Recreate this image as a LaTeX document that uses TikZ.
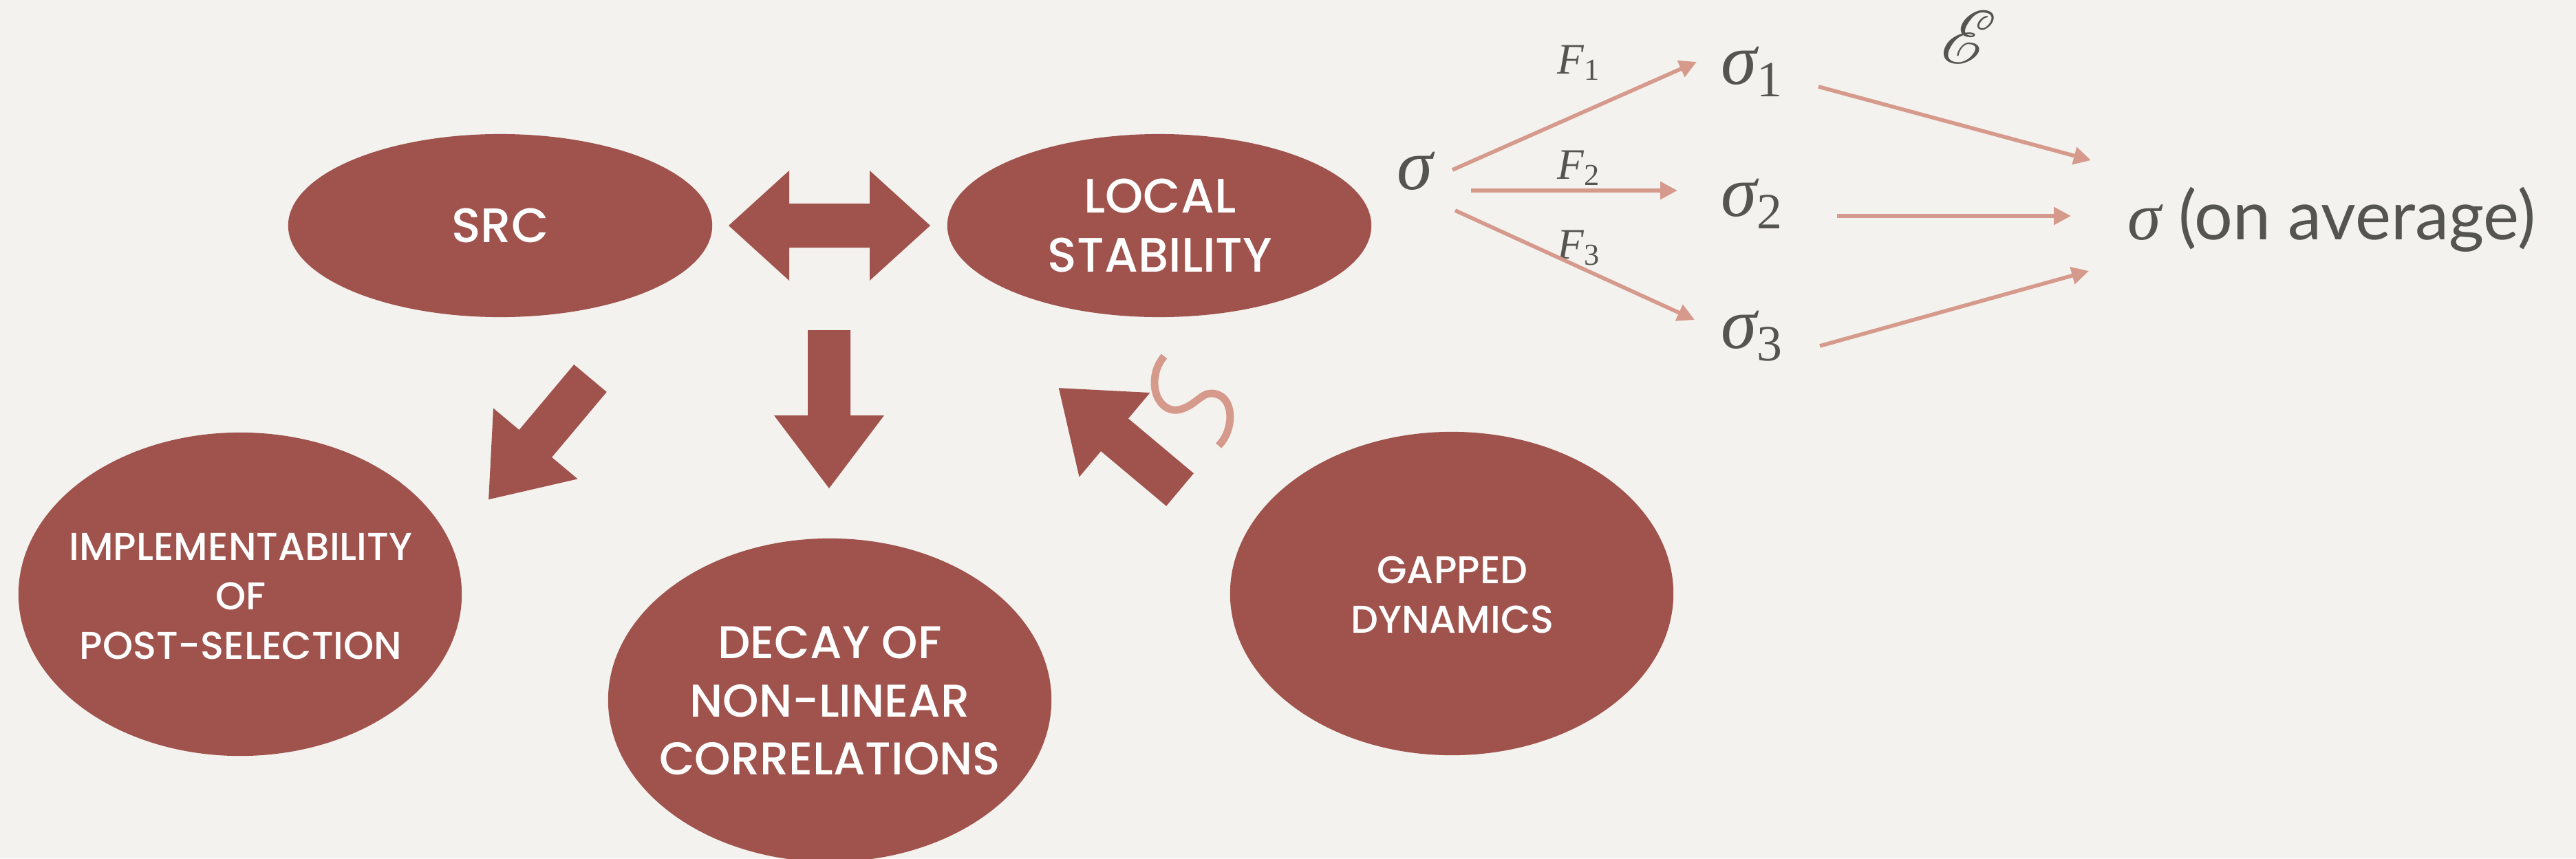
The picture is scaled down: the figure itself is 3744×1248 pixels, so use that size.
\documentclass[tikz,border=0pt]{standalone}
\usepackage{mathrsfs}
\usepackage{fontspec}
\newfontfamily\blobfont{Poppins}[UprightFont={* Medium}]
\newfontfamily\notefont{Lato}
\newfontfamily\serifish{Liberation Serif}
\usetikzlibrary{arrows.meta,shapes.geometric}
\definecolor{paper}{HTML}{F3F2EE}
\definecolor{brick}{HTML}{A0524C}
\definecolor{salmon}{HTML}{D69A8C}
\definecolor{ink}{HTML}{545450}
\tikzset{
  top blob/.style={ellipse,fill=brick,inner sep=0pt,minimum width=6.16cm,minimum height=2.66cm},
  low blob/.style={ellipse,fill=brick,inner sep=0pt,minimum width=6.44cm,minimum height=4.70cm},
  blob label/.style={text=white,align=center,inner sep=0pt},
  map arrow/.style={salmon,line width=1.6pt,-{Triangle[length=0.25cm,width=0.25cm]}},
  math label/.style={text=ink,inner sep=0pt,anchor=base west},
  squiggle line/.style={salmon,line width=3.1pt},
}
\newcommand{\blockArrow}[3]{
\fill[brick,shift={(#1,#2)},rotate=#3] (0,-31) -- (124,-31) -- (124,-80) -- (230,0) -- (124,80) -- (124,31) -- (0,31) -- cycle;
}
\newcommand{\itsub}[2]{{\itshape #1}\textsubscript{#2}}

\begin{document}
\begin{tikzpicture}[x=0.01cm,y=-0.01cm]
\path[clip] (0,0) rectangle (3744,1248);
\fill[paper] (0,0) rectangle (3744,1248);
\node[top blob] (src) at (727,328) {};
\node[top blob] (local) at (1685,328) {};
\node[low blob] (impl) at (349,864) {};
\node[low blob] (decay) at (1206,1018) {};
\node[low blob] (gapped) at (2110,863) {};
\node[blob label,font=\blobfont\fontsize{20}{24.5}\selectfont] (srctext) at (src) {SRC};
\node[blob label,font=\blobfont\fontsize{20}{24.5}\selectfont] (localtext) at (1686,328) {LOCAL\\STABILITY};
\node[blob label,font=\blobfont\fontsize{16}{20.5}\selectfont] (impltext) at (350,867) {IMPLEMENTABILITY\\OF\\POST-SELECTION};
\node[blob label,font=\blobfont\fontsize{19}{24}\selectfont] (decaytext) at (1206,1019) {DECAY OF\\NON-LINEAR\\CORRELATIONS};
\node[blob label,font=\blobfont\fontsize{16}{20.5}\selectfont] (gappedtext) at (2111,865) {GAPPED\\DYNAMICS};
\fill[brick] (1059,328) -- (1147,248) -- (1147,296) -- (1264,296) -- (1264,248) -- (1352,328) -- (1264,408) -- (1264,360) -- (1147,360) -- (1147,408) -- cycle;
\foreach \tx/\ty/\ang in {858/550/230, 1205/480/270, 1715/712/140}{
  \blockArrow{\tx}{\ty}{\ang}
}
\draw[squiggle line] (1692,518) .. controls (1665,550) and (1680,600) .. (1712,596) .. controls (1735,592) and (1745,572) .. (1760,572) .. controls (1795,572) and (1795,625) .. (1771,648);
\node[math label,font=\serifish\fontsize{30}{30}\selectfont] (sig) at (2030,275) {\itshape σ};
\node[math label,font=\serifish\fontsize{18}{18}\selectfont] (f1) at (2263,107) {\itsub{F}{1}};
\node[math label,font=\serifish\fontsize{18}{18}\selectfont] (f2) at (2263,260) {\itsub{F}{2}};
\node[math label,font=\serifish\fontsize{18}{18}\selectfont] (f3) at (2263,376) {\itsub{F}{3}};
\node[math label,font=\serifish\fontsize{30}{30}\selectfont] (s1) at (2501,122) {\itsub{σ}{1}};
\node[math label,font=\serifish\fontsize{30}{30}\selectfont] (s2) at (2501,314) {\itsub{σ}{2}};
\node[math label,font=\serifish\fontsize{30}{30}\selectfont] (s3) at (2501,506) {\itsub{σ}{3}};
\node[math label,font=\fontsize{24.88}{25}\selectfont] (ens) at (2820,92) {\scalebox{1.25}{$\mathscr{E}$}};
\node[math label,font=\notefont\fontsize{28}{28}\selectfont] (avg) at (3092,348) {{\serifish\itshape σ} (on average)};
\coordinate (a1s) at (2111,247);
\coordinate (a1e) at (2466,90);
\coordinate (a2s) at (2138,277);
\coordinate (a2e) at (2438,277);
\coordinate (a3s) at (2115,306);
\coordinate (a3e) at (2463,465);
\coordinate (b1s) at (2643,126);
\coordinate (b1e) at (3039,233);
\coordinate (b2s) at (2670,314);
\coordinate (b2e) at (3010,314);
\coordinate (b3s) at (2645,503);
\coordinate (b3e) at (3036,394);
\foreach \i in {1,2,3}{
  \draw[map arrow] (a\i s) -- (a\i e);
  \draw[map arrow] (b\i s) -- (b\i e);
}
\end{tikzpicture}
\end{document}
